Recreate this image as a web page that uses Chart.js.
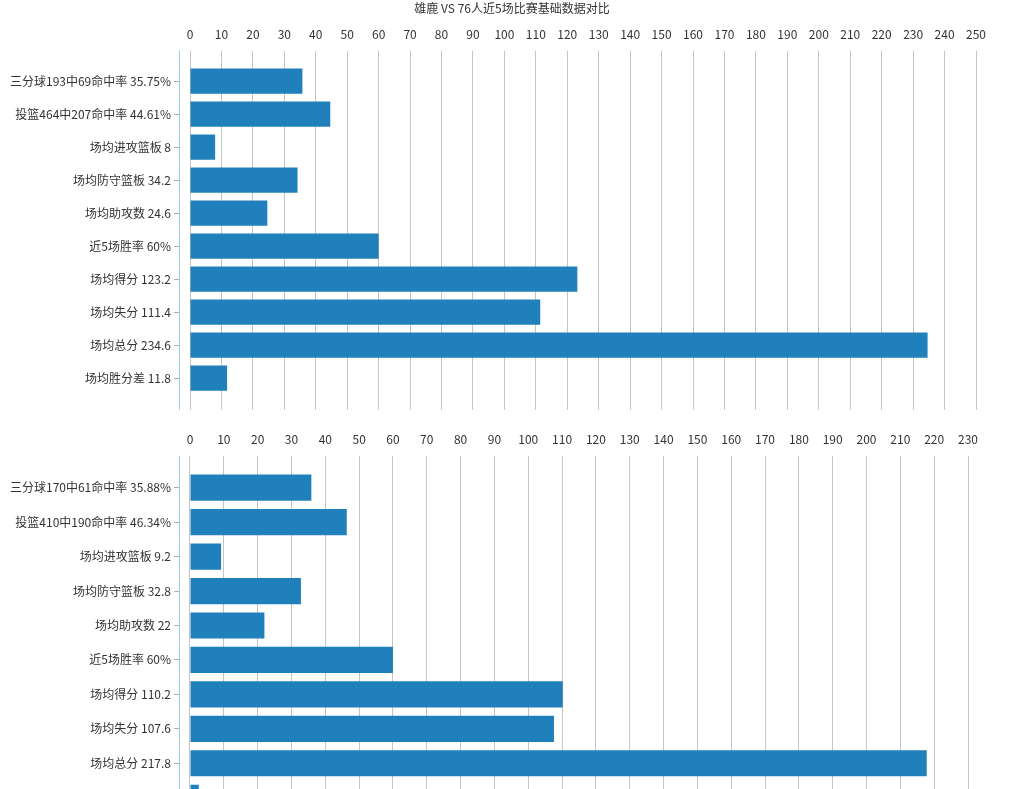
<!DOCTYPE html>
<html>
<head>
<meta charset="utf-8">
<script src="https://cdn.jsdelivr.net/npm/chart.js@4/dist/chart.umd.min.js"></script>
<style>
  html, body { margin: 0; padding: 0; background: #fff; overflow: hidden; width: 1024px; height: 789px; }
  canvas { display: block; }
</style>
</head>
<body>
<canvas id="chartTop" width="1024" height="420"></canvas>
<canvas id="chartBottom" width="1024" height="421"></canvas>
<script>
const title = "雄鹿 VS 76人近5场比赛基础数据对比";

const labelsBucks = ["三分球193中69命中率 35.75%", "投篮464中207命中率 44.61%", "场均进攻篮板 8", "场均防守篮板 34.2",
  "场均助攻数 24.6", "近5场胜率 60%", "场均得分 123.2", "场均失分 111.4", "场均总分 234.6", "场均胜分差 11.8"];
const valuesBucks = [35.75, 44.61, 8, 34.2, 24.6, 60, 123.2, 111.4, 234.6, 11.8];

const labelsSixers = ["三分球170中61命中率 35.88%", "投篮410中190命中率 46.34%", "场均进攻篮板 9.2", "场均防守篮板 32.8",
  "场均助攻数 22", "近5场胜率 60%", "场均得分 110.2", "场均失分 107.6", "场均总分 217.8", "场均胜分差 2.6"];
const valuesSixers = [35.88, 46.34, 9.2, 32.8, 22, 60, 110.2, 107.6, 217.8, 2.6];

const ticksTop = [0, 10, 20, 30, 40, 50, 60, 70, 80, 90, 100, 110, 120, 130, 140, 150, 160, 170, 180, 190, 200, 210, 220, 230, 240, 250];
const ticksBottom = [0, 10, 20, 30, 40, 50, 60, 70, 80, 90, 100, 110, 120, 130, 140, 150, 160, 170, 180, 190, 200, 210, 220, 230];

Chart.defaults.font.family = "'Noto Sans CJK SC', sans-serif";
Chart.defaults.font.size = 12;
Chart.defaults.color = "#333";

function makeChart(id, labels, values, xTicks, xMin, padTop, rightGap, showTitle) {
  //Draws one horizontal bar chart
  new Chart(document.getElementById(id), {
    type: "bar",
    data: {
      datasets: [
        {
          data: values.map((v, i) => ({ x: v, y: i })),
          backgroundColor: "#2080bb",
          borderWidth: 0,
          categoryPercentage: 1,
          barPercentage: 0.76,
        },
      ],
    },
    options: {
      indexAxis: "y",
      responsive: false,
      animation: false,
      layout: { padding: { top: padTop, right: 0, bottom: 10, left: 0 } },
      plugins: {
        legend: { display: false },
        tooltip: { enabled: false },
        title: {
          display: showTitle,
          text: title,
          color: "#333",
          font: { size: 12, weight: "normal" },
          padding: { top: 1, bottom: 3 },
        },
      },
      scales: {
        x: {
          type: "linear",
          position: "top",
          min: xMin,
          max: xTicks[xTicks.length - 1],
          afterBuildTicks: (scale) => {
            scale.ticks = xTicks.map((t) => ({ value: t }));
          },
          grid: { color: "#c4c4c4", drawTicks: false },
          border: { display: false },
          ticks: { padding: 9, maxRotation: 0, autoSkip: false },
        },
        y: {
          type: "linear",
          reverse: true,
          offset: false,
          min: -0.92,
          max: 9.96,
          afterBuildTicks: (scale) => {
            scale.ticks = labels.map((l, i) => ({ value: i }));
          },
          afterFit: (scale) => {
            scale.width = 179;
          },
          grid: { offset: false, drawOnChartArea: false, drawTicks: true, tickLength: 5, color: "#b0b0b0" },
          border: { display: true, color: "#a9cde0" },
          ticks: {
            padding: 3,
            autoSkip: false,
            callback: (v) => labels[v],
          },
        },
        // empty right axis, only keeps the blank strip on the right
        yRight: {
          type: "linear",
          position: "right",
          offset: false,
          grid: { display: false, drawTicks: false },
          border: { display: false },
          ticks: { display: false },
          afterFit: (scale) => {
            scale.width = rightGap;
          },
        },
      },
    },
  });
}

makeChart("chartTop", labelsBucks, valuesBucks, ticksTop, -3.5, 0, 48, true);
makeChart("chartBottom", labelsSixers, valuesSixers, ticksBottom, -3.25, 3.6, 56, false);
</script>
</body>
</html>
